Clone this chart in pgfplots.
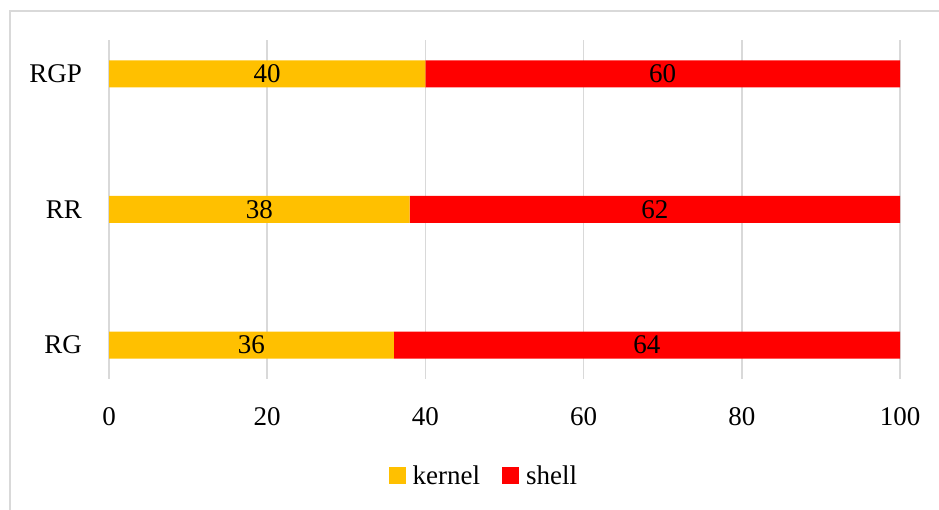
\documentclass[border=0pt]{standalone}
\usepackage{pgfplots}
\usepackage{pgfplotstable}
\pgfplotsset{compat=1.18}
\usepackage{fontspec}
\setmainfont{Liberation Serif}
\definecolor{kern}{HTML}{FFC000}
\definecolor{shel}{HTML}{FF0000}
\definecolor{grd}{HTML}{D9D9D9}
\pgfplotstableread{
y kernel shell
0 36 64
1 38 62
2 40 60
}\data
\begin{document}
\begin{tikzpicture}[font=\fontsize{27}{31}\selectfont]
\path[use as bounding box] (0pt,0pt) rectangle (939pt,510pt);
\draw[grd, line width=1.5pt] (10pt,-5pt) -- (10pt,499pt) -- (945pt,499pt);
\begin{axis}[
  at={(109pt,131pt)}, anchor=south west,
  width=791pt, height=339pt, scale only axis,
  xbar stacked, bar width=27pt,
  xmin=0, xmax=100, ymin=-0.25, ymax=2.25,
  xtick={0,20,...,100}, ytick={0,1,2}, yticklabels={RG,RR,RGP},
  /pgf/number format/assume math mode=true,
  axis line style={draw=none}, major tick length=0pt,
  xmajorgrids, grid style={grd, line width=1.5pt},
  xticklabel style={anchor=center, yshift=-38pt},
  yticklabel style={anchor=east, inner sep=0pt, xshift=-27pt},
  legend columns=2,
  legend style={at={(axis description cs:0.474,-0.286)}, anchor=center, draw=none, fill=none,
    /tikz/every even column/.append style={column sep=20pt}},
  legend image code/.code={\fill[#1] (0pt,-8.5pt) rectangle (17pt,8.5pt); \path (22pt,0pt);},
  every node near coord/.append style={anchor=center, font=\fontsize{27}{31}\selectfont, text=black},
]
\addplot[fill=kern, draw=none, nodes near coords, point meta=\thisrow{kernel}]
  table[x=kernel, y=y] {\data};
\addlegendentry{kernel}
\addplot[fill=shel, draw=none, nodes near coords, point meta=\thisrow{shell}]
  table[x=shell, y=y] {\data};
\addlegendentry{shell}
\end{axis}
\end{tikzpicture}
\end{document}
